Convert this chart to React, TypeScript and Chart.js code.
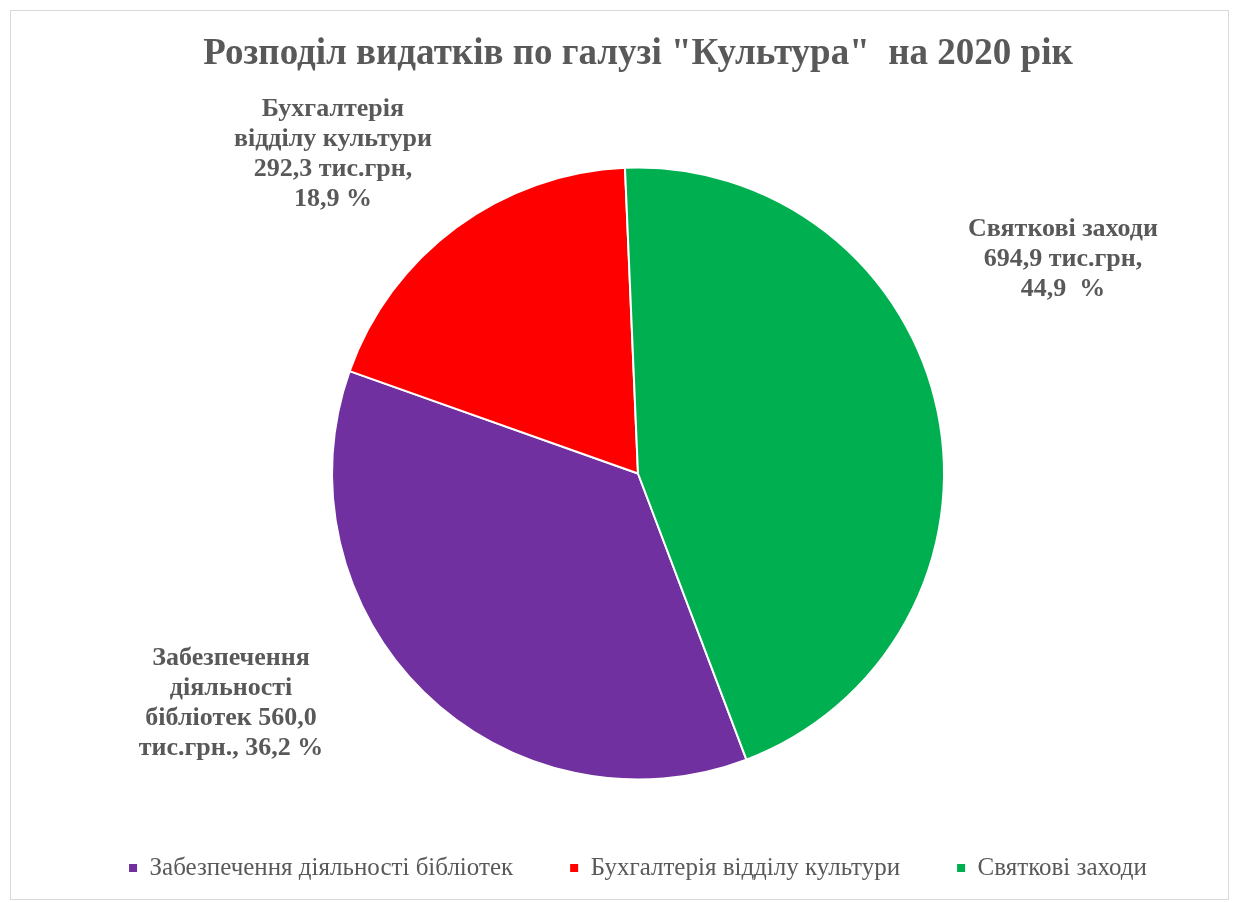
import React, { useEffect, useRef } from "react";
import { Chart, registerables } from "chart.js";

Chart.register(...registerables);

const categories = [
  "Забезпечення діяльності бібліотек",
  "Бухгалтерія відділу культури",
  "Святкові заходи",
];
const values = [560.0, 292.3, 694.9];
const percents = [36.2, 18.9, 44.9];
const colors = ["#7030A0", "#FF0000", "#00B050"];
const chartTitle = 'Розподіл видатків по галузі "Культура"  на 2020 рік';

const fmt = (v: number) => v.toFixed(1).replace(".", ",");
const labelLines = [
  ["Забезпечення", "діяльності", `бібліотек ${fmt(values[0])}`, `тис.грн., ${fmt(percents[0])} %`],
  ["Бухгалтерія", "відділу культури", `${fmt(values[1])} тис.грн,`, `${fmt(percents[1])} %`],
  ["Святкові заходи", `${fmt(values[2])} тис.грн,`, `${fmt(percents[2])}  %`],
];
// label block centres relative to pie centre, in units of the pie radius
const labelOffsets = [
  [-1.33, 0.75],
  [-0.997, -1.044],
  [1.389, -0.701],
];

const FONT = "'Liberation Serif', 'Times New Roman', serif";
const TEXT = "#595959";

const labelPlugin = {
  id: "sliceLabels",
  afterDatasetsDraw(chart: any) {
    const meta = chart.getDatasetMeta(0);
    const ctx = chart.ctx;
    ctx.save();
    ctx.font = `bold 26px ${FONT}`;
    ctx.fillStyle = TEXT;
    ctx.textAlign = "center";
    ctx.textBaseline = "middle";
    meta.data.forEach((arc: any, i: number) => {
      const { x, y, outerRadius } = arc.getProps(["x", "y", "outerRadius"], true);
      const cx = x + labelOffsets[i][0] * outerRadius;
      const cy = y + labelOffsets[i][1] * outerRadius;
      const lines = labelLines[i];
      const lh = 30;
      lines.forEach((ln, j) => {
        ctx.fillText(ln, cx, cy + (j - (lines.length - 1) / 2) * lh);
      });
    });
    ctx.restore();
  },
};

export default function App() {
  const ref = useRef<HTMLCanvasElement | null>(null);

  useEffect(() => {
    if (!ref.current) return;
    const total = values.reduce((a, b) => a + b, 0);
    // green slice starts just left of 12 o'clock
    const rotation = (values[2] / total) * 360 - 2.44;
    const chart = new Chart(ref.current, {
      type: "pie",
      data: {
        labels: categories,
        datasets: [
          {
            data: values,
            backgroundColor: colors,
            borderColor: "#ffffff",
            borderWidth: 2,
            radius: 306,
          } as any,
        ],
      },
      options: {
        animation: false,
        responsive: true,
        maintainAspectRatio: false,
        rotation,
        layout: { padding: { left: 37, right: 0, top: 0, bottom: 8.5 } },
        plugins: {
          tooltip: { enabled: false },
          title: {
            display: true,
            text: chartTitle,
            color: TEXT,
            font: { family: FONT, size: 37, weight: "bold" },
            padding: { top: 20.8, bottom: 72.3 },
          },
          legend: {
            display: true,
            position: "bottom",
            labels: {
              usePointStyle: true,
              pointStyle: "rect",
              boxWidth: 8,
              boxHeight: 8,
              padding: 57,
              color: TEXT,
              font: { family: FONT, size: 25 },
              generateLabels: () =>
                categories.map((c, i) => ({
                  text: c,
                  fillStyle: colors[i],
                  strokeStyle: colors[i],
                  lineWidth: 0,
                  pointStyle: "rect",
                  fontColor: TEXT,
                  hidden: false,
                  index: i,
                })),
            },
          },
        },
      },
      plugins: [labelPlugin],
    });
    return () => chart.destroy();
  }, []);

  return (
    <div
      style={{
        position: "absolute",
        left: 10,
        top: 10,
        width: 1219,
        height: 890,
        border: "1px solid #d9d9d9",
        boxSizing: "border-box",
        background: "#ffffff",
      }}
    >
      <div style={{ position: "relative", width: "100%", height: "100%" }}>
        <canvas ref={ref} />
      </div>
    </div>
  );
}
